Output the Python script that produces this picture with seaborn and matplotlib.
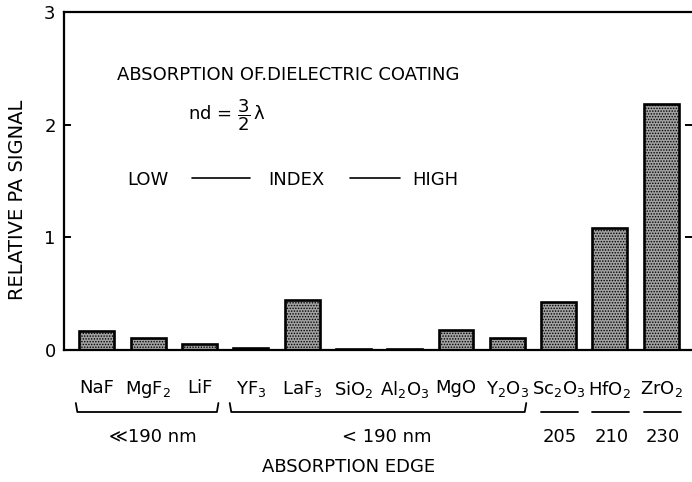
import matplotlib
matplotlib.use("Agg")
import matplotlib.pyplot as plt
import matplotlib.transforms as mtransforms
import seaborn as sns
import pandas as pd

# ---- data ----
materials = ["NaF", "MgF$_2$", "LiF", "YF$_3$", "LaF$_3$", "SiO$_2$", "Al$_2$O$_3$",
             "MgO", "Y$_2$O$_3$", "Sc$_2$O$_3$", "HfO$_2$", "ZrO$_2$"]
pa_signal = [0.17, 0.11, 0.05, 0.02, 0.44, 0.01, 0.01, 0.18, 0.11, 0.43, 1.08, 2.18]
yticks = [0, 1, 2, 3]
ytick_labels = ["0", "1", "2", "3"]
edge_groups = ["\u226a190 nm", "< 190 nm", "205", "210", "230"]
group_spans = [(0, 2), (3, 8), (9, 9), (10, 10), (11, 11)]

sns.set_style("white")
plt.rcParams["font.family"] = ["DejaVu Sans"]
plt.rcParams["mathtext.default"] = "regular"
plt.rcParams["hatch.linewidth"] = 0.7
for k in ["text.color", "axes.labelcolor", "xtick.color", "ytick.color", "axes.edgecolor"]:
    plt.rcParams[k] = "black"

W, H = 692, 482
fig = plt.figure(figsize=(W / 100, H / 100), dpi=100)
ax = fig.add_axes([64 / W, 132 / H, 628 / W, 338 / H])

df = pd.DataFrame({"material": materials, "signal": pa_signal})
sns.barplot(data=df, x="material", y="signal", color="#a2a2a2", saturation=1,
            width=0.68, edgecolor="black", linewidth=1.9, ax=ax)
for p in ax.patches:
    p.set_hatch("......")

ax.set_xlim(-0.64, 11.6)
ax.set_ylim(0, 3)
ax.set_yticks(yticks)
ax.set_yticklabels(ytick_labels)
ax.set_xlabel("")
ax.set_ylabel("")

for s in ["left", "top", "bottom"]:
    ax.spines[s].set_visible(True)
    ax.spines[s].set_linewidth(1.6)
    ax.spines[s].set_color("black")
ax.spines["right"].set_visible(False)

ax.tick_params(axis="y", which="both", left=True, right=True, direction="in",
               length=5, width=1.4, color="black", labelsize=13, pad=6, labelcolor="black")
ax.tick_params(axis="x", length=0, labelsize=13, pad=21, labelcolor="black")

# annotation texts inside the plot
ax.text(0.084, 0.814, "ABSORPTION OF.DIELECTRIC COATING", transform=ax.transAxes,
        fontsize=13, ha="left", va="center")
ax.text(0.197, 0.695, r"nd = $\dfrac{3}{2}\,\lambda$", transform=ax.transAxes,
        fontsize=13, ha="left", va="center")
ax.text(0.100, 0.503, "LOW", transform=ax.transAxes, fontsize=13, ha="left", va="center")
ax.text(0.325, 0.503, "INDEX", transform=ax.transAxes, fontsize=13, ha="left", va="center")
ax.text(0.554, 0.503, "HIGH", transform=ax.transAxes, fontsize=13, ha="left", va="center")
ax.plot([(192 - 64) / 628, (250 - 64) / 628], [0.508, 0.508], transform=ax.transAxes,
        color="black", lw=1.2)
ax.plot([(350 - 64) / 628, (400 - 64) / 628], [0.508, 0.508], transform=ax.transAxes,
        color="black", lw=1.2)

# group braces and absorption edge labels below the axis
blend = mtransforms.blended_transform_factory(ax.transData, fig.transFigure)
y_h = (H - 412) / H
y_t = (H - 403) / H
y_lab = (H - 437) / H
label_x = [1.1, 5.65, 9.02, 10.03, 11.03]
for (i0, i1), lab, lx in zip(group_spans, edge_groups, label_x):
    if i1 > i0:
        xs = [i0 - 0.41, i0 - 0.38, i1 + 0.34, i1 + 0.37]
        ys = [y_t, y_h, y_h, y_t]
    else:
        xs = [i0 - 0.34, i0 + 0.38]
        ys = [y_h, y_h]
    ax.plot(xs, ys, transform=blend, color="black", lw=1.3, clip_on=False)
    ax.text(lx, y_lab, lab, transform=blend, fontsize=13, ha="center", va="center")

fig.text(348.5 / W, (H - 467) / H, "ABSORPTION EDGE", fontsize=13, ha="center", va="center")
fig.text(18 / W, (H - 200) / H, "RELATIVE PA SIGNAL", fontsize=14, rotation=90,
         ha="center", va="center")

fig.savefig("out.png", dpi=100)
